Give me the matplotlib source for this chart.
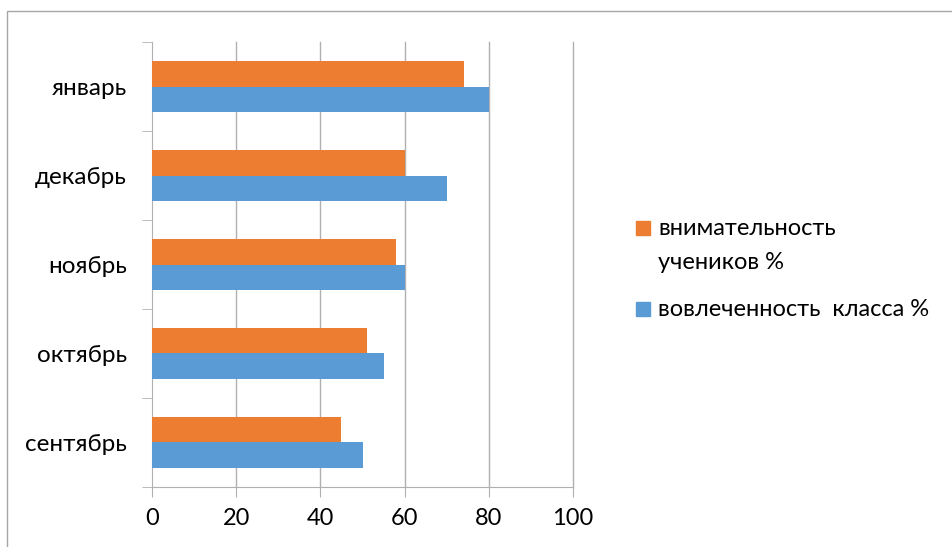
import matplotlib
matplotlib.use("Agg")
import matplotlib.pyplot as plt
from matplotlib.patches import Rectangle
import numpy as np

months = ["сентябрь", "октябрь", "ноябрь", "декабрь", "январь"]
attention = [45, 51, 58, 60, 74]
engagement = [50, 55, 60, 70, 80]
series_names = ["внимательность\nучеников %", "вовлеченность  класса %"]
x_ticks = [0, 20, 40, 60, 80, 100]

orange = "#ED7D31"
blue = "#5B9BD5"
line_gray = "#B0B0B0"

plt.rcParams["font.family"] = ["Lato", "DejaVu Sans"]

W, H = 953, 547
fig = plt.figure(figsize=(W / 100, H / 100), dpi=100)
ax = fig.add_axes([0.1595, 0.1097, 0.4418, 0.8135])

# frame of the chart area (only top and left edges are visible)
fig.patches.append(Rectangle((7 / W, -0.1), 1.2, 1 - 11 / H + 0.1,
                             transform=fig.transFigure, fill=False,
                             edgecolor="#A6A6A6", linewidth=1.0))

y = np.arange(len(months))
h = 0.285
ax.barh(y + h / 2, attention, height=h, color=orange, zorder=3)
ax.barh(y - h / 2, engagement, height=h, color=blue, zorder=3)

ax.set_xlim(0, 100)
ax.set_ylim(-0.5, len(months) - 0.5)
ax.set_xticks(x_ticks)
ax.set_xticklabels([str(t) for t in x_ticks], fontsize=17)
ax.tick_params(axis="x", length=7, color=line_gray, pad=8)
for t in x_ticks[1:]:
    ax.axvline(t, color=line_gray, linewidth=1.0, zorder=0, clip_on=False)

ax.set_yticks(y)
ax.set_yticklabels(months, fontsize=17.5)
ax.set_yticks(np.arange(-0.5, len(months), 1.0), minor=True)
ax.tick_params(axis="y", which="major", length=0, pad=18)
ax.tick_params(axis="y", which="minor", length=7, color=line_gray)

for side in ["top", "right"]:
    ax.spines[side].set_visible(False)
for side in ["left", "bottom"]:
    ax.spines[side].set_color(line_gray)

# legend drawn by hand: the square sits next to the first line of the label
legend_colors = [orange, blue]
square_tops = [221, 302]          # pixels from top
label_baselines = [235, 316]
line_step = 34
for name, color, top, base in zip(series_names, legend_colors,
                                  square_tops, label_baselines):
    fig.patches.append(Rectangle((636 / W, 1 - (top + 14) / H), 14 / W, 14 / H,
                                 transform=fig.transFigure, color=color))
    for i, line in enumerate(name.split("\n")):
        fig.text(658 / W, 1 - (base + i * line_step) / H, line,
                 fontsize=17, va="baseline", ha="left")

fig.savefig("out.png", dpi=100, facecolor="white")
